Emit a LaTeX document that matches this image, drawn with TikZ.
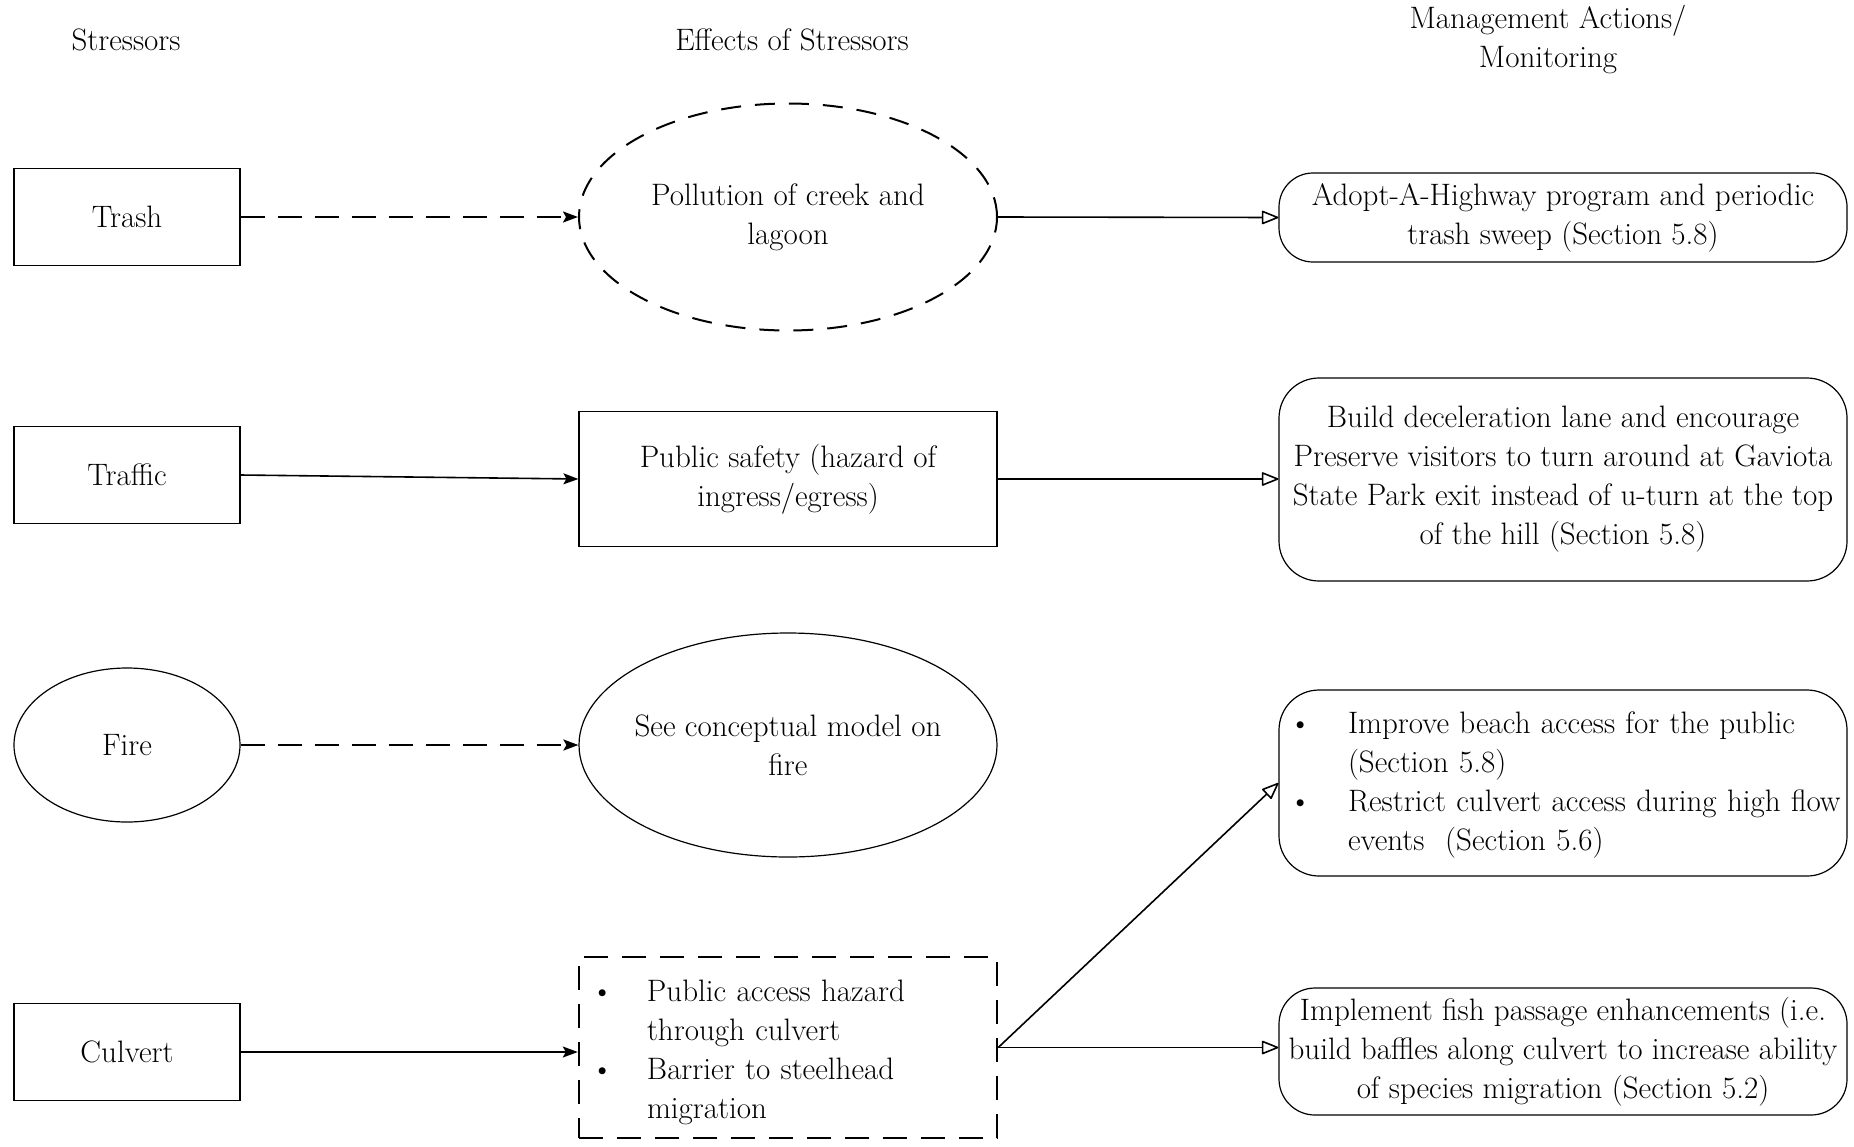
\documentclass[tikz,border=0pt]{standalone}
\usetikzlibrary{arrows.meta,shapes.geometric}
\begin{document}
\begin{tikzpicture}[x=1pt,y=-1pt,
  every node/.style={font=\fontsize{31}{39}\selectfont, align=center, inner sep=0pt},
  sbox/.style={draw, line width=1.2pt, minimum width=226pt, minimum height=97pt},
  mbox/.style={draw, line width=1.2pt, minimum width=418pt},
  rbox/.style={draw, line width=1.2pt, rounded corners=38pt, minimum width=568pt},
  ell/.style={draw, ellipse, line width=1.2pt, inner sep=0pt, inner xsep=-80pt, inner ysep=-20pt},
  dashell/.style={dash pattern=on 20pt off 14pt, line width=2pt},
  dashbox/.style={dash pattern=on 24pt off 14pt, line width=2.4pt},
  farrow/.style={line width=1.6pt, -{Stealth[length=15pt,width=11pt,inset=3pt]}},
  darrow/.style={farrow, dash pattern=on 24pt off 13pt, line width=2.2pt},
  oarrow/.style={line width=1.6pt, -{Triangle[open,length=18pt,width=14pt,line width=1.6pt,round]}}
]
\path[use as bounding box] (0,0) rectangle (1854,1146);

% headers
\node (hS) at (126,40) {Stressors};
\node (hE) at (792,40) {Effects of Stressors};
\node (hM) at (1548,40) {Management Actions/\\Monitoring};

% stressors
\node[sbox] (trash) at (127,217) {Trash};
\node[sbox] (traffic) at (127,475) {Traffic};
\node[ell, inner xsep=0pt, inner ysep=0pt, minimum width=226pt, minimum height=154pt] (fire) at (127,745) {Fire};
\node[sbox] (culvert) at (127,1052) {Culvert};

% effects
\node[ell, dashell, minimum width=418pt, minimum height=227pt] (poll) at (788,217) {Pollution of creek and\\lagoon};
\node[mbox, minimum height=135pt] (safety) at (788,479) {Public safety (hazard of\\ingress/egress)};
\node[ell, minimum width=418pt, minimum height=224pt] (see) at (788,745) {See conceptual model on\\fire};
\node[mbox, dashbox, minimum height=181pt, text width=394pt, inner xsep=12pt, align=left] (barrier) at (788,1047.5)
  {\noindent\begin{tabular}{@{}p{56pt}@{}l@{}}\noalign{\vskip10pt}
  \textbullet & Public access hazard\\
   & through culvert\\
  \textbullet & Barrier to steelhead\\
   & migration
  \end{tabular}};

% management
\node[rbox, rounded corners=34pt, minimum height=89pt] (adopt) at (1563,217.5) {Adopt-A-Highway program and periodic\\trash sweep (Section 5.8)};
\node[rbox, rounded corners=40pt, minimum height=203pt] (build) at (1563,479.5) {Build deceleration lane and encourage\\Preserve visitors to turn around at Gaviota\\State Park exit instead of u-turn at the top\\of the hill (Section 5.8)};
\node[rbox, rounded corners=40pt, minimum height=186pt, text width=548pt, inner xsep=10pt, align=left] (improve) at (1563,783)
  {\noindent\begin{tabular}{@{}p{59pt}@{}l@{}}\noalign{\vskip3pt}
  \textbullet & Improve beach access for the public\\
   & (Section 5.8)\\
  \textbullet & Restrict culvert access during high flow\\
   & events\ \ (Section 5.6)
  \end{tabular}};
\node[rbox, rounded corners=36pt, minimum height=127pt] (implement) at (1563,1051.5) {Implement fish passage enhancements (i.e.\\build baffles along culvert to increase ability\\of species migration (Section 5.2)};

% connectors
\draw[darrow] (trash.east) -- (poll.west);
\draw[oarrow] (poll.east) -- (adopt.west);
\draw[farrow] (traffic.east) -- (safety.west);
\draw[oarrow] (safety.east) -- (safety.east -| build.west);
\draw[darrow] (fire.east) -- (see.west);
\draw[farrow] (culvert.east) -- (culvert.east -| barrier.west);
\draw[oarrow] (barrier.east) -- (improve.west);
\draw[oarrow] (barrier.east) -- (barrier.east -| implement.west);
\end{tikzpicture}
\end{document}
